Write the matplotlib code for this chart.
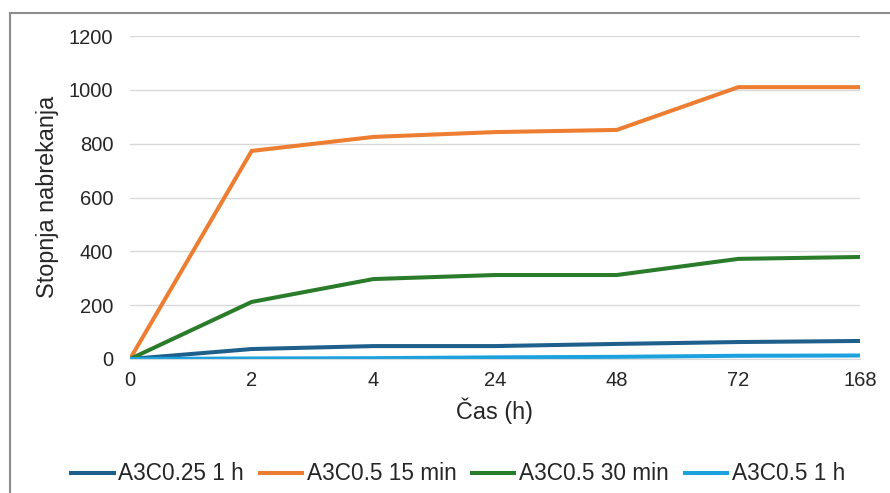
import matplotlib
matplotlib.use("Agg")
import matplotlib.pyplot as plt
from matplotlib.patches import Rectangle

categories = ["0", "2", "4", "24", "48", "72", "168"]
s_a3c025_1h = [0, 37, 48, 48, 56, 63, 67]
s_a3c05_15min = [0, 773, 825, 843, 851, 1010, 1010]
s_a3c05_30min = [0, 212, 297, 312, 312, 372, 379]
s_a3c05_1h = [0, 2, 3, 6, 8, 12, 13]
series_names = ["A3C0.25 1 h", "A3C0.5 15 min", "A3C0.5 30 min", "A3C0.5 1 h"]
colors = ["#1F5F8B", "#ED7D31", "#2A7B2A", "#1AA1DE"]
yticks = [0, 200, 400, 600, 800, 1000, 1200]

plt.rcParams['font.family'] = ['Liberation Sans', 'DejaVu Sans']
FS = 14.5
FS2 = 16.8
FSL = 16.3

W, H = 890, 493
fig = plt.figure(figsize=(W / 100, H / 100), dpi=100)
ax = fig.add_axes([130 / W, 1 - 359 / H, (860 - 130) / W, (359 - 36) / H])

x = list(range(len(categories)))
data = [s_a3c025_1h, s_a3c05_15min, s_a3c05_30min, s_a3c05_1h]
for vals, name, c in zip(data, series_names, colors):
    ax.plot(x, vals, color=c, lw=2.9, label=name, solid_capstyle='butt', solid_joinstyle='miter')

ax.set_xlim(0, len(categories) - 1)
ax.set_ylim(0, 1200)
ax.set_xticks(x)
ax.set_xticklabels(categories)
ax.set_yticks(yticks)
ax.set_yticklabels([str(v) for v in yticks])
ax.tick_params(axis='both', length=0, labelsize=FS, colors='#404040', labelcolor='#262626')
ax.tick_params(axis='x', pad=9)
ax.tick_params(axis='y', pad=12)
ax.grid(axis='y', color='#D9D9D9', lw=1.0)
ax.set_axisbelow(True)
for s in ['top', 'right', 'left']:
    ax.spines[s].set_visible(False)
ax.spines['bottom'].set_color('#D9D9D9')

fig.text(495 / W, 1 - 411 / H, "Čas (h)", fontsize=FS2, color='#262626', ha='center', va='center')
fig.text(48 / W, 1 - 197 / H, "Stopnja nabrekanja", fontsize=FS2, color='#262626',
         ha='center', va='center', rotation=90)

fig.legend(loc='center', bbox_to_anchor=(457 / W, 1 - 474 / H), ncol=4, frameon=False,
           fontsize=FSL, handlelength=2.05, handletextpad=0.12, columnspacing=0.6,
           labelcolor='#262626')

fig.patches.append(Rectangle((10 / W, -0.05), 1.0, 1 - 13 / H + 0.05, transform=fig.transFigure,
                             fill=False, edgecolor='#8C8C8C', lw=1.5))

fig.savefig("out.png", dpi=100)
